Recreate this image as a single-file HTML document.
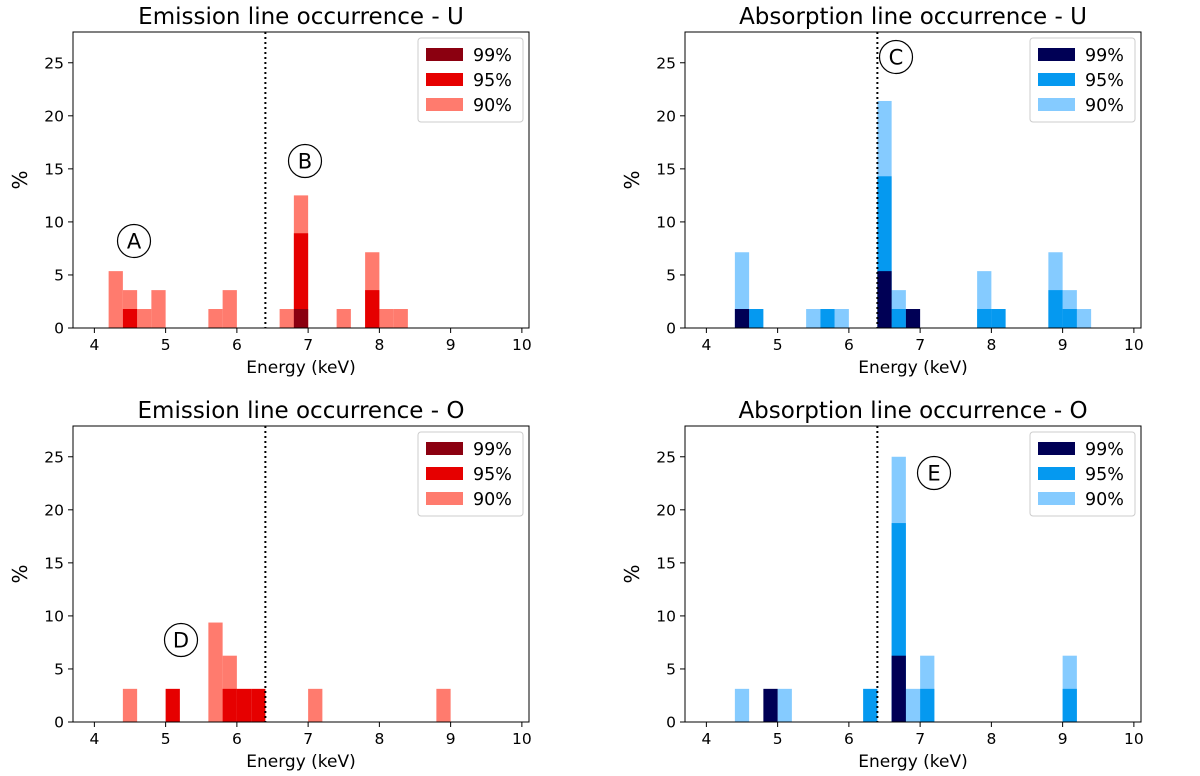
<!DOCTYPE html>
<html><head><meta charset="utf-8"><style>
body{margin:0;background:#fff;font-family:"Liberation Sans","DejaVu Sans",sans-serif}
svg text{font-family:"DejaVu Sans","Liberation Sans",sans-serif}
</style></head><body>
<svg id="fig" width="1200" height="771" xmlns="http://www.w3.org/2000/svg"></svg>
<script>
// bin left edges (keV), bin width 0.2
const tlBins=[4.2,4.4,4.6,4.8,5.6,5.8,6.6,6.8,7.4,7.8,8.0,8.2];
const tl90=[5.36,3.57,1.79,3.57,1.79,3.57,1.79,12.5,1.79,7.14,1.79,1.79];
const tl95=[0,1.79,0,0,0,0,0,8.93,0,3.57,0,0];
const tl99=[0,0,0,0,0,0,0,1.79,0,0,0,0];
const trBins=[4.4,4.6,5.4,5.6,5.8,6.4,6.6,6.8,7.8,8.0,8.8,9.0,9.2];
const tr90=[7.14,0,1.79,0,1.79,21.4,3.57,0,5.36,0,7.14,3.57,1.79];
const tr95=[0,1.79,0,1.79,0,14.3,1.79,0,1.79,1.79,3.57,1.79,0];
const tr99=[1.79,0,0,0,0,5.36,0,1.79,0,0,0,0,0];
const blBins=[4.4,5.0,5.6,5.8,6.0,6.2,7.0,8.8];
const bl90=[3.125,0,9.375,6.25,0,0,3.125,3.125];
const bl95=[0,3.125,0,3.125,3.125,3.125,0,0];
const bl99=[0,0,0,0,0,0,0,0];
const brBins=[4.4,4.8,5.0,6.2,6.6,6.8,7.0,9.0];
const br90=[3.125,0,3.125,0,25,3.125,6.25,6.25];
const br95=[0,0,0,3.125,18.75,0,3.125,3.125];
const br99=[0,3.125,0,0,6.25,0,0,0];
const xTicks=[4,5,6,7,8,9,10];
const yTicks=[0,5,10,15,20,25];

const NS="http://www.w3.org/2000/svg";
const fig=document.getElementById('fig');
function mk(tag,attrs,parent,txt){const e=document.createElementNS(NS,tag);for(const k in attrs)e.setAttribute(k,attrs[k]);if(txt!==undefined)e.textContent=txt;(parent||fig).appendChild(e);return e;}
const reds=['#ff7b6e','#e60000','#8b0010'];
const blues=['#85cbff','#0599f0','#000055'];
function panel(L,T,title,bins,s90,s95,s99,cols,ann,key){
  const W=456,H=296,x0=3.7,x1=10.1,y1=27.9;
  const g=mk('g',{});
  
  
  const X=v=>L+(v-x0)/(x1-x0)*W, Y=v=>T+H-v/y1*H;
  const series=[s90,s95,s99];
  series.forEach((s,si)=>{bins.forEach((b,i)=>{if(s[i]>0){const r=mk('rect',{x:X(b),y:Y(s[i]),width:X(b+0.2)-X(b),height:Y(0)-Y(s[i]),fill:cols[si]},g);
    
    }});});
  const dl=mk('line',{x1:X(6.4),x2:X(6.4),y1:T,y2:T+H,stroke:'#000','stroke-width':2,'stroke-dasharray':'2,3'},g);
  
  
  mk('rect',{x:L,y:T,width:W,height:H,fill:'none',stroke:'#000','stroke-width':1},g);
  xTicks.forEach(t=>{mk('line',{x1:X(t),x2:X(t),y1:T+H,y2:T+H+5,stroke:'#000'},g);
    const tx=mk('text',{x:X(t),y:T+H+22,'font-size':15.5,'text-anchor':'middle'},g,String(t));
    
    });
  yTicks.forEach(t=>{mk('line',{x1:L-5,x2:L,y1:Y(t),y2:Y(t),stroke:'#000'},g);
    const tx=mk('text',{x:L-9,y:Y(t)+5.5,'font-size':15.5,'text-anchor':'end'},g,String(t));
    
    });
  const xt=mk('text',{x:L+W/2,y:T+H+45,'font-size':17,'text-anchor':'middle'},g,'Energy (keV)');
  
  
  const yt=mk('text',{x:0,y:0,'font-size':20,'text-anchor':'middle',transform:`translate(${L-46},${T+H/2}) rotate(-90)`},g,'%');
  
  
  const tt=mk('text',{x:L+W/2,y:T-8,'font-size':23,'text-anchor':'middle'},g,title);
  
  
  const lg=mk('g',{},g);
  
  
  mk('rect',{x:L+W-111,y:T+6,width:105,height:84,rx:3,fill:'#fff',stroke:'#ccc'},lg);
  ['99%','95%','90%'].forEach((lab,i)=>{const c=cols[2-i];
    mk('rect',{x:L+W-103,y:T+16+i*25,width:37,height:13,fill:c},lg);
    const tx=mk('text',{x:L+W-56,y:T+29+i*25,'font-size':17.5},lg,lab);
    
    });
  const ag=mk('g',{},g);
  
  
  mk('circle',{cx:ann[1],cy:ann[2],r:16.5,fill:'#fff',stroke:'#000','stroke-width':1.2},ag);
  mk('text',{x:ann[1],y:ann[2]+7.5,'font-size':21,'text-anchor':'middle'},ag,ann[0]);
}
panel(73,32,'Emission line occurrence - U',tlBins,tl90,tl95,tl99,reds,['A',134,241],'emission-u');
panel(685,32,'Absorption line occurrence - U',trBins,tr90,tr95,tr99,blues,['C',896,57],'absorption-u');
panel(73,426,'Emission line occurrence - O',blBins,bl90,bl95,bl99,reds,['D',181,640],'emission-o');
panel(685,426,'Absorption line occurrence - O',brBins,br90,br95,br99,blues,['E',934,473],'absorption-o');
// B annotation
const bg=mk('g',{});


mk('circle',{cx:305,cy:161,r:16.5,fill:'#fff',stroke:'#000','stroke-width':1.2},bg);
mk('text',{x:305,y:168.5,'font-size':21,'text-anchor':'middle'},bg,'B');
</script>
</body></html>
